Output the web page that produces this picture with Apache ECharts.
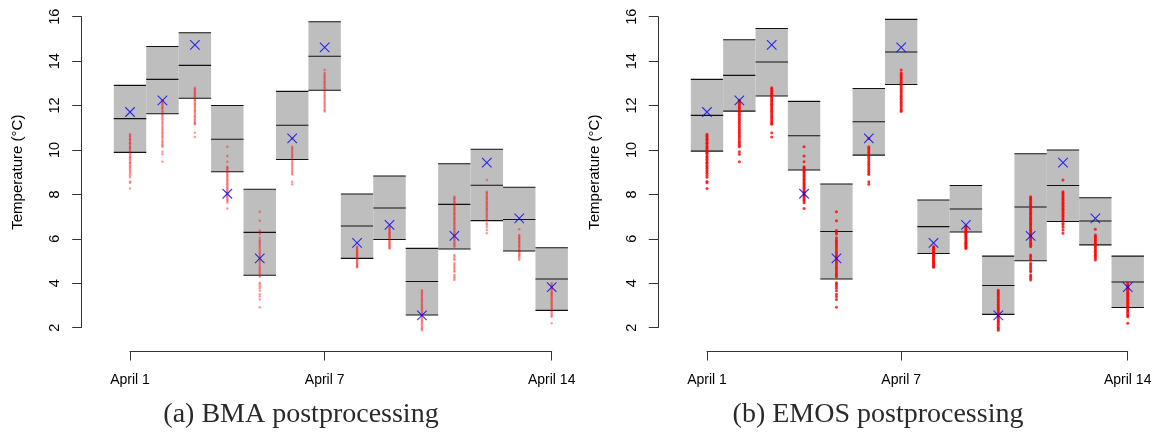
<!DOCTYPE html>
<html><head><meta charset="utf-8">
<script src="https://cdn.jsdelivr.net/npm/echarts@6/dist/echarts.min.js"></script>
<style>html,body{margin:0;padding:0;background:#fff}#c{width:1162px;height:432px}</style>
</head><body><div id="c"></div>
<script>
// ---------- data ----------
const days = [1,2,3,4,5,6,7,8,9,10,11,12,13,14];
const xTickDays = [1,7,14];
const xTickLabels = ['April 1','April 7','April 14'];
const captions = ['(a) BMA postprocessing','(b) EMOS postprocessing'];

const observations = [11.71,12.23,14.73,8.03,5.12,10.52,14.62,5.82,6.63,2.55,6.13,9.43,6.92,3.83];

const bmaLower  = [9.89,11.63,12.33,9.02,4.36,9.57,12.69,5.12,5.97,2.57,5.54,6.82,5.45,2.78];
const bmaMedian = [11.41,13.18,13.81,10.48,6.29,11.11,14.22,6.58,7.39,4.08,7.55,8.41,6.87,4.19];
const bmaUpper  = [12.91,14.66,15.28,12.00,8.23,12.64,15.77,8.02,8.83,5.57,9.38,10.03,8.32,5.60];

const emosLower  = [9.95,11.75,12.43,9.10,4.19,9.77,12.95,5.34,6.31,2.60,5.01,6.78,5.73,2.91];
const emosMedian = [11.56,13.36,13.96,10.64,6.33,11.27,14.41,6.55,7.34,3.90,7.43,8.40,6.80,4.06];
const emosUpper  = [13.18,14.96,15.47,12.19,8.47,12.77,15.88,7.75,8.40,5.22,9.83,10.00,7.85,5.22];

// raw ensemble members per day
const ensApr1  = [10.71,10.64,10.60,10.52,10.47,10.41,10.33,10.30,10.22,10.15,10.10,10.03,9.96,9.90,9.85,9.77,9.70,9.66,9.58,9.51,9.44,9.40,9.31,9.25,9.18,9.10,9.03,8.95,8.86,8.77,8.58,8.52,8.27];
const ensApr2  = [12.24,12.18,12.10,12.05,11.97,11.90,11.84,11.76,11.70,11.61,11.55,11.47,11.40,11.33,11.25,11.18,11.10,11.02,10.95,10.88,10.80,10.73,10.65,10.58,10.50,10.42,10.35,10.27,10.20,10.14,9.92,9.81,9.47];
const ensApr3  = [12.80,12.74,12.68,12.62,12.55,12.50,12.44,12.37,12.31,12.25,12.19,12.12,12.06,12.00,11.93,11.87,11.80,11.74,11.68,11.60,11.53,11.47,11.40,11.33,11.26,11.20,11.16,10.78,10.58];
const ensApr4  = [10.14,9.73,9.47,9.25,9.20,9.14,9.08,9.02,8.96,8.90,8.84,8.78,8.72,8.66,8.60,8.54,8.48,8.42,8.36,8.30,8.24,8.18,8.12,8.06,8.00,7.94,7.88,7.82,7.76,7.70,7.62,7.37];
const ensApr5  = [7.22,6.81,6.38,6.30,6.22,6.05,5.95,5.88,5.80,5.72,5.64,5.56,5.48,5.40,5.32,5.24,5.16,5.08,5.00,4.92,4.84,4.76,4.68,4.60,4.52,4.44,4.36,4.29,4.02,3.95,3.86,3.78,3.66,3.50,3.40,3.27,2.92];
const ensApr6  = [10.52,10.14,10.08,10.00,9.92,9.84,9.76,9.68,9.60,9.52,9.44,9.36,9.28,9.20,9.12,9.04,8.96,8.90,8.57,8.46];
const ensApr7  = [13.60,13.46,13.40,13.33,13.26,13.19,13.12,13.05,12.98,12.91,12.84,12.77,12.70,12.63,12.56,12.49,12.42,12.35,12.28,12.21,12.14,12.07,12.00,11.93,11.86,11.79,11.73];
const ensApr8  = [5.65,5.60,5.55,5.50,5.45,5.40,5.35,5.30,5.25,5.20,5.15,5.10,5.05,5.00,4.95,4.90,4.85,4.80,4.75,4.72];
const ensApr9  = [6.56,6.50,6.45,6.40,6.35,6.30,6.25,6.20,6.15,6.10,6.05,6.00,5.95,5.90,5.85,5.80,5.75,5.70,5.65,5.60,5.57];
const ensApr10 = [3.68,3.62,3.55,3.48,3.41,3.34,3.27,3.20,3.13,3.06,2.99,2.92,2.85,2.78,2.71,2.64,2.57,2.50,2.43,2.36,2.29,2.22,2.15,2.08,2.01,1.95,1.89];
const ensApr11 = [7.90,7.84,7.78,7.71,7.65,7.58,7.52,7.46,7.40,7.33,7.27,7.20,7.14,7.08,7.01,6.95,6.88,6.82,6.75,6.69,6.62,6.56,6.49,6.43,6.36,6.30,6.23,6.17,6.10,6.04,5.97,5.91,5.84,5.78,5.71,5.64,5.27,5.20,5.12,5.05,4.90,4.82,4.74,4.66,4.58,4.52,4.37,4.30,4.22,4.15];
const ensApr12 = [8.65,8.12,8.06,8.00,7.93,7.86,7.80,7.74,7.66,7.60,7.53,7.47,7.40,7.33,7.27,7.20,7.12,7.05,6.98,6.90,6.84,6.70,6.62,6.52,6.40,6.25];
const ensApr13 = [6.43,6.17,6.11,6.05,5.99,5.93,5.87,5.81,5.75,5.69,5.63,5.57,5.50,5.44,5.38,5.32,5.26,5.20,5.13,5.05];
const ensApr14 = [4.00,3.92,3.86,3.80,3.73,3.67,3.60,3.54,3.48,3.41,3.35,3.28,3.22,3.15,3.09,3.02,2.96,2.89,2.82,2.76,2.70,2.62,2.55,2.49,2.20];

const ensemble = [ensApr1,ensApr2,ensApr3,ensApr4,ensApr5,ensApr6,ensApr7,ensApr8,ensApr9,ensApr10,ensApr11,ensApr12,ensApr13,ensApr14];

// ---------- build ----------
const ensData = [];
ensemble.forEach((arr, i) => arr.forEach(v => ensData.push([days[i], v])));
const obsData = days.map((d, i) => [d, observations[i]]);
const boxData = (lo, me, hi) => days.map((d, i) => [d, lo[i], me[i], hi[i]]);

const LINE = '#111';
function renderBox(params, api) {
  const d = api.value(0), lo = api.value(1), me = api.value(2), hi = api.value(3);
  const a = api.coord([d - 0.5, hi]);
  const b = api.coord([d + 0.5, lo]);
  const m = api.coord([d - 0.5, me]);
  const x0 = a[0], x1 = b[0];
  const ls = {stroke: LINE, lineWidth: 1.1};
  return {type: 'group', children: [
    {type: 'rect', shape: {x: x0, y: a[1], width: x1 - x0, height: b[1] - a[1]}, style: {fill: '#bebebe'}},
    {type: 'line', shape: {x1: x0, y1: a[1], x2: x1, y2: a[1]}, style: ls},
    {type: 'line', shape: {x1: x0, y1: m[1], x2: x1, y2: m[1]}, style: ls},
    {type: 'line', shape: {x1: x0, y1: b[1], x2: x1, y2: b[1]}, style: ls}
  ]};
}

const SANS = "'Liberation Sans',Arial,sans-serif";
const AX = '#333';

const panels = [
  {yAxisX: 81.7, dataLeft: 113.8, dataW: 454.1, xLeft: 130, xW: 421.7, lo: bmaLower, me: bmaMedian, hi: bmaUpper, ensStyle: {color: 'rgba(255,0,0,0.5)'}, ensSize: 2.5, cap: captions[0], capX: 301},
  {yAxisX: 658.3, dataLeft: 690.8, dataW: 453.1, xLeft: 707, xW: 420.7, lo: emosLower, me: emosMedian, hi: emosUpper, ensStyle: {color: '#ff0000'}, ensSize: 3, cap: captions[1], capX: 878}
];

const grid = [], xAxis = [], yAxis = [], series = [], graphic = [];
panels.forEach((p, k) => {
  const base = k * 3;
  grid.push({left: p.dataLeft, top: 16.7, width: p.dataW, height: 333.2, outerBoundsMode: 'none'});
  grid.push({left: p.yAxisX, top: 16.7, width: 20, height: 311, outerBoundsMode: 'none'});
  grid.push({left: p.xLeft, top: 16.7, width: p.xW, height: 334.3, outerBoundsMode: 'none'});

  xAxis.push({gridIndex: base, type: 'value', min: 0.5, max: 14.5, show: false});
  xAxis.push({gridIndex: base + 1, type: 'value', min: 0, max: 1, show: false});
  xAxis.push({gridIndex: base + 2, type: 'value', min: 1, max: 14, position: 'bottom',
    axisLine: {show: true, lineStyle: {color: AX, width: 1}},
    axisTick: {show: true, length: 9.5, lineStyle: {color: AX, width: 1}, customValues: xTickDays},
    axisLabel: {show: true, customValues: xTickDays, margin: 22, color: '#000', fontSize: 14, fontFamily: SANS,
      formatter: v => xTickLabels[xTickDays.indexOf(v)]},
    splitLine: {show: false}});

  yAxis.push({gridIndex: base, type: 'value', min: 1, max: 16, show: false});
  yAxis.push({gridIndex: base + 1, type: 'value', min: 2, max: 16, interval: 2, position: 'left',
    name: 'Temperature (°C)', nameLocation: 'middle', nameGap: 56, nameRotate: 90,
    nameTextStyle: {color: '#000', fontSize: 15, fontFamily: SANS},
    axisLine: {show: true, lineStyle: {color: AX, width: 1}},
    axisTick: {show: true, length: 9.5, lineStyle: {color: AX, width: 1}},
    axisLabel: {show: true, rotate: 90, margin: 19, color: '#000', fontSize: 14.5, fontFamily: SANS},
    splitLine: {show: false}});
  yAxis.push({gridIndex: base + 2, type: 'value', min: 0, max: 1, show: false});

  series.push({type: 'custom', xAxisIndex: base, yAxisIndex: base, renderItem: renderBox,
    data: boxData(p.lo, p.me, p.hi), z: 1, clip: false, silent: true});
  series.push({type: 'scatter', xAxisIndex: base, yAxisIndex: base, data: ensData, symbol: 'circle',
    symbolSize: p.ensSize, itemStyle: p.ensStyle, z: 2, silent: true});
  series.push({type: 'scatter', xAxisIndex: base, yAxisIndex: base, data: obsData,
    symbol: 'path://M0,0L10,10M10,0L0,10', symbolSize: 9.5,
    itemStyle: {color: 'rgba(0,0,0,0)', borderColor: '#0000ff', borderWidth: 1.1}, z: 3, silent: true});

  graphic.push({type: 'text', x: p.capX, y: 415,
    style: {text: p.cap, textAlign: 'center', textVerticalAlign: 'middle', fill: '#2a2a2a',
      font: "28px 'Liberation Serif','DejaVu Serif',serif"}});
});

const chart = echarts.init(document.getElementById('c'), null, {renderer: 'canvas'});
chart.setOption({animation: false, backgroundColor: '#fff', grid, xAxis, yAxis, series, graphic});
</script>
</body></html>
